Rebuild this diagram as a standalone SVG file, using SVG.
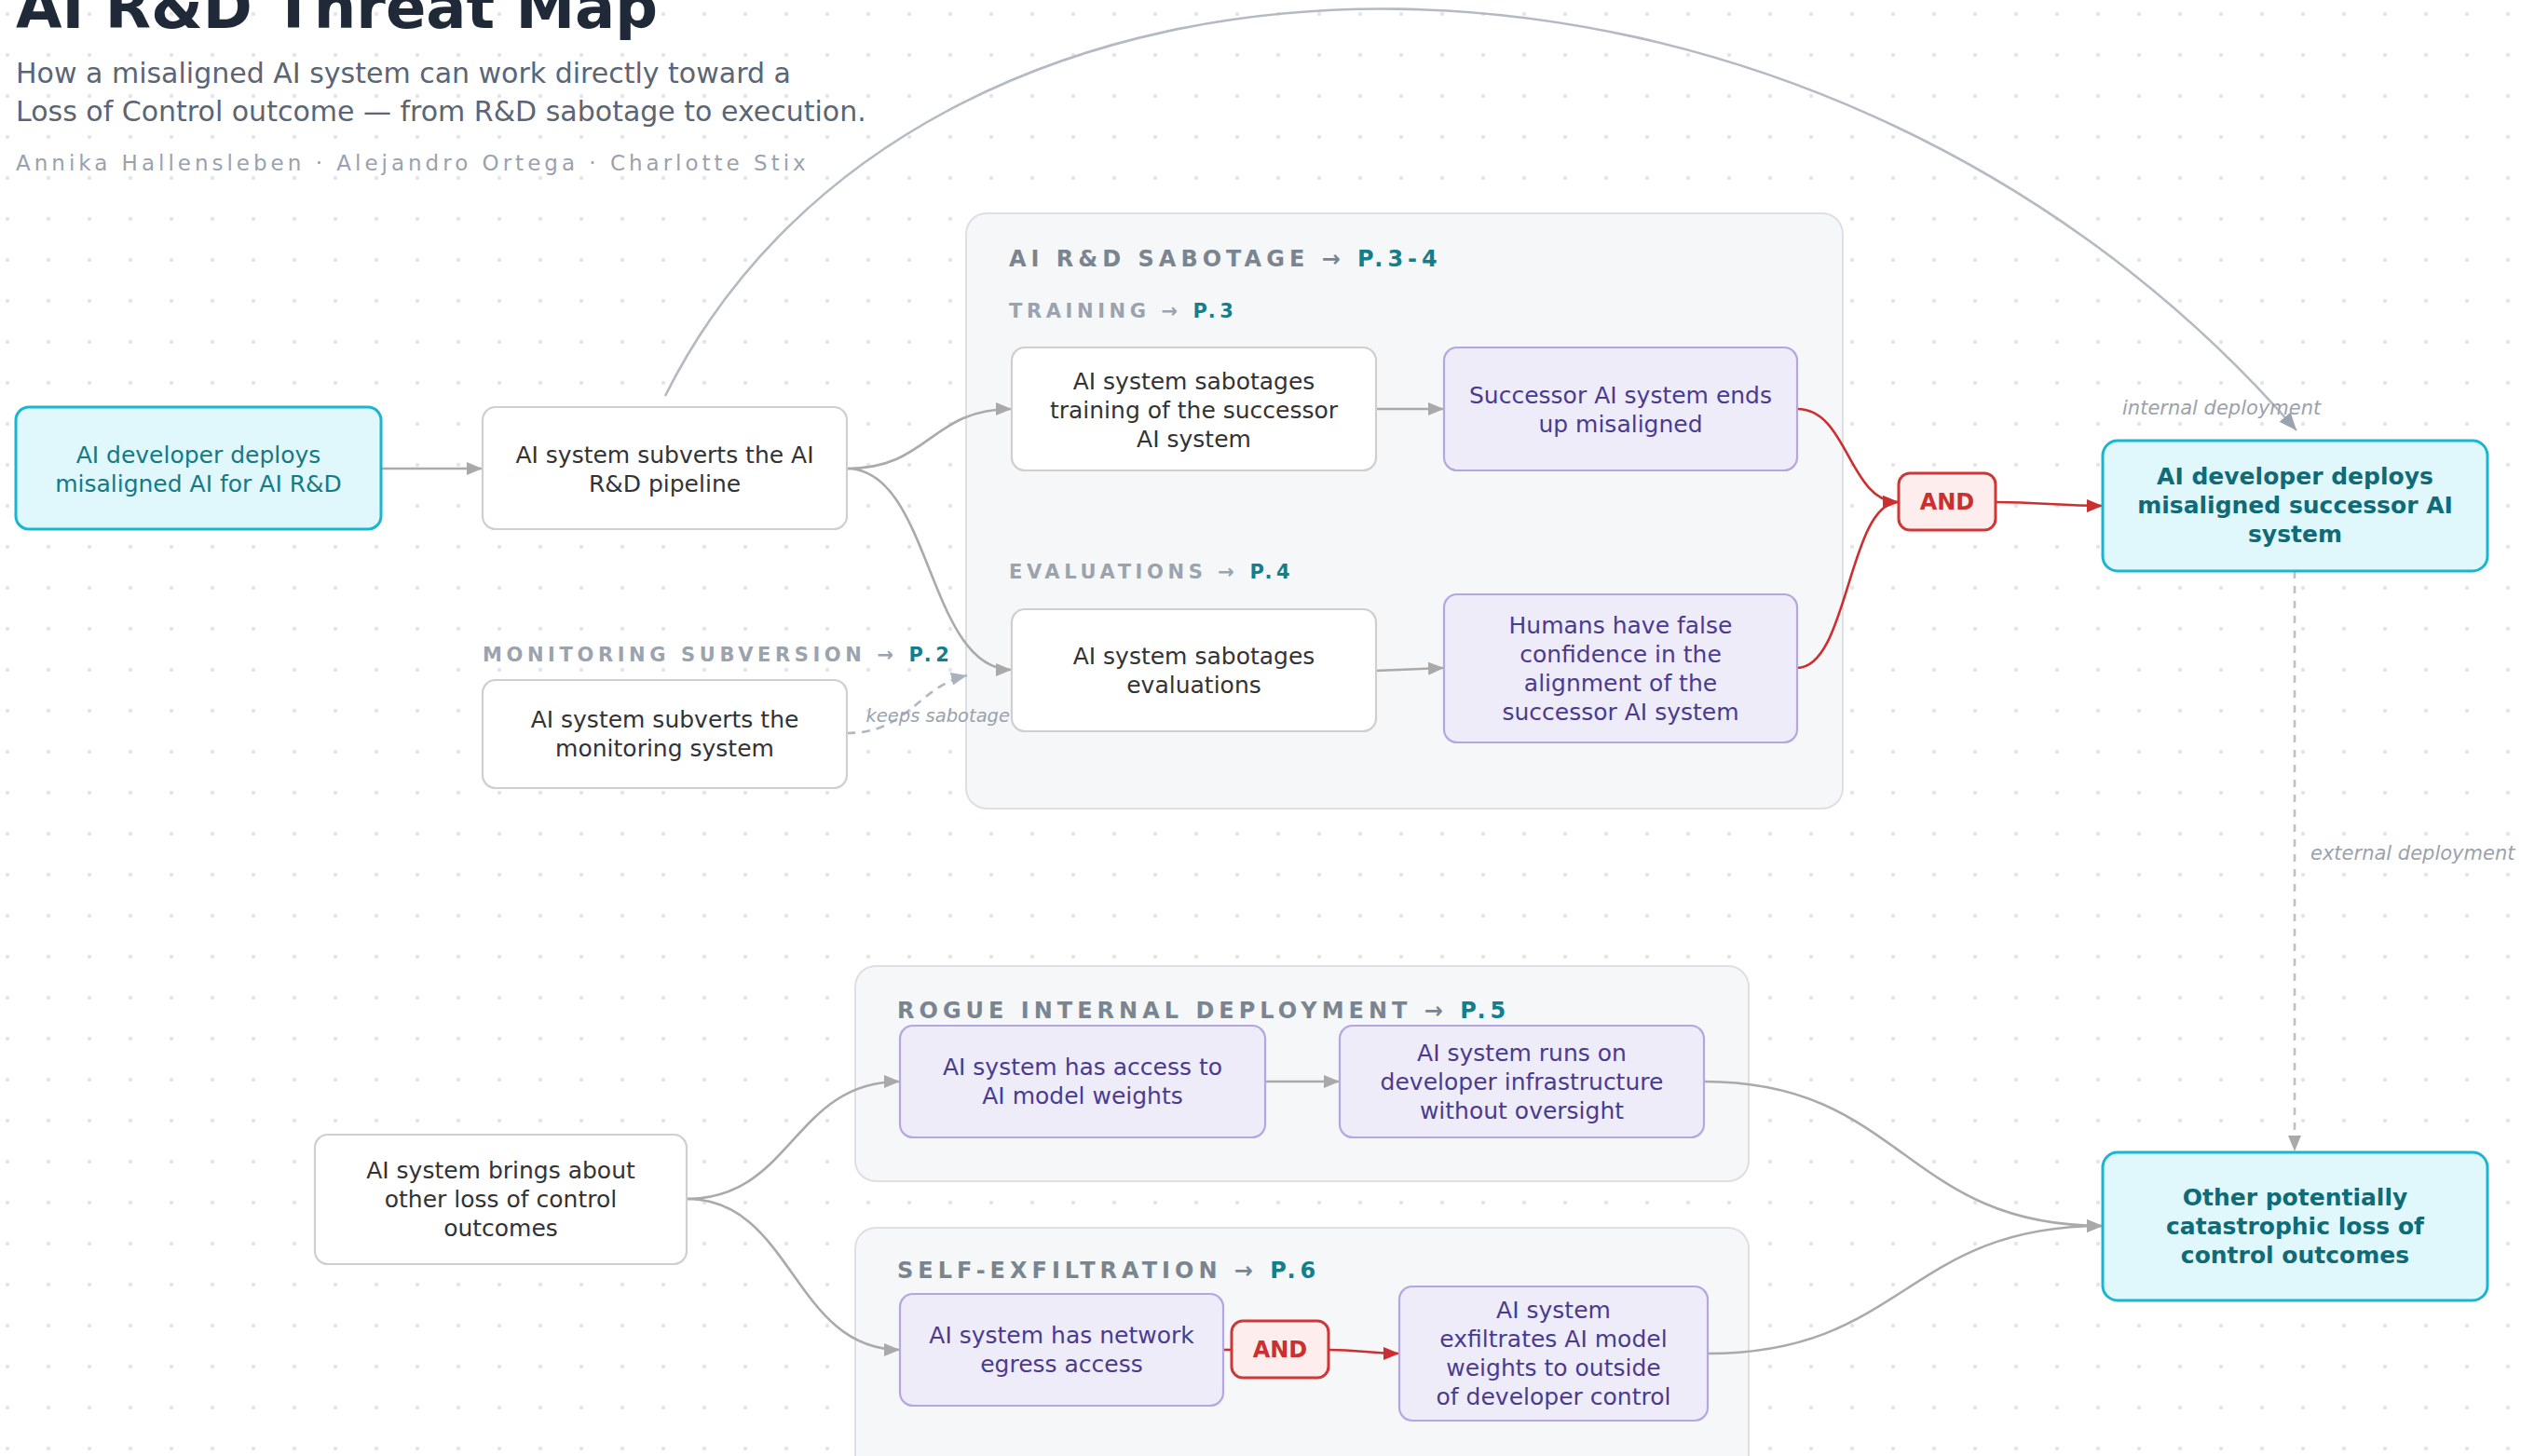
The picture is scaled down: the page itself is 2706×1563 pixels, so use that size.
<svg xmlns="http://www.w3.org/2000/svg" width="2706" height="1563" viewBox="0 0 2706 1563">
<defs>
<pattern id="dots" patternUnits="userSpaceOnUse" x="-14" y="-7" width="44" height="44">
<circle cx="22" cy="22" r="2.2" fill="#e3e5e8"/>
</pattern>
<marker id="ag" markerUnits="userSpaceOnUse" markerWidth="18" markerHeight="14" refX="17" refY="7" orient="auto"><path d="M0,0 L17,7 L0,14 z" fill="#a9a9a9"/></marker>
<marker id="ar" markerUnits="userSpaceOnUse" markerWidth="18" markerHeight="14" refX="17" refY="7" orient="auto"><path d="M0,0 L17,7 L0,14 z" fill="#cc2f2f"/></marker>
<marker id="as" markerUnits="userSpaceOnUse" markerWidth="20" markerHeight="16" refX="19" refY="8" orient="auto"><path d="M0,0 L19,8 L0,16 z" fill="#9aa2ad"/></marker>
<marker id="ad" markerUnits="userSpaceOnUse" markerWidth="18" markerHeight="14" refX="17" refY="7" orient="auto"><path d="M0,0 L17,7 L0,14 z" fill="#aab3bd"/></marker>
</defs>
<style>
text{font-family:"DejaVu Sans","Liberation Sans",sans-serif}
.t{font-size:25px;text-anchor:middle}
.tw{fill:#333333}
.tp{fill:#4a3b8f}
.tt{fill:#137a86}
.tb{fill:#0f6b78;font-weight:bold}
.nw{fill:#ffffff;stroke:#cfcfcf;stroke-width:2.2}
.np{fill:#efecfa;stroke:#b3a6e4;stroke-width:2.2}
.nt{fill:#e0f7fc;stroke:#1bb5cf;stroke-width:3}
.box{fill:#f6f7f9;stroke:#dcdfe4;stroke-width:2}
.and{fill:#fdeeed;stroke:#cf3636;stroke-width:3}
.andt{font-size:24px;font-weight:bold;fill:#cc2f2f;text-anchor:middle}
.h1{font-size:24px;font-weight:bold;letter-spacing:5px;fill:#7b8590}
.h2{font-size:21px;font-weight:bold;letter-spacing:4.6px;fill:#9aa3ae}
.pg{fill:#137f8c}
.lbl{font-size:21px;font-style:italic;fill:#9aa2ad}
.lbs{font-size:19.5px;font-style:italic;fill:#9aa2ad}
.cg{fill:none;stroke:#aaaaaa;stroke-width:2.6}
.cr{fill:none;stroke:#cc2f2f;stroke-width:2.6}
</style>
<rect width="2706" height="1563" fill="#ffffff"/>
<rect width="2706" height="1563" fill="url(#dots)"/>

<g id="header">
<text x="17" y="30" font-size="64" font-weight="bold" fill="#1f2937">AI R&amp;D Threat Map</text>
<text x="17" y="89" font-size="30" fill="#5b6573">How a misaligned AI system can work directly toward a</text>
<text x="17" y="130" font-size="30" fill="#5b6573">Loss of Control outcome — from R&amp;D sabotage to execution.</text>
<text x="17" y="183" font-size="23" letter-spacing="4" fill="#9aa2ad">Annika Hallensleben · Alejandro Ortega · Charlotte Stix</text>
</g>

<g id="group-sabotage">
<rect class="box" x="1037" y="229" width="941" height="639" rx="22"/>
<text class="h1" x="1083" y="286">AI R&amp;D SABOTAGE → <tspan class="pg">P.3-4</tspan></text>
<text class="h2" x="1083" y="341">TRAINING → <tspan class="pg">P.3</tspan></text>
<text class="h2" x="1083" y="621">EVALUATIONS → <tspan class="pg">P.4</tspan></text>
</g>
<g id="group-rogue">
<rect class="box" x="918" y="1037" width="959" height="231" rx="22"/>
<text class="h1" x="963" y="1093">ROGUE INTERNAL DEPLOYMENT → <tspan class="pg">P.5</tspan></text>
</g>
<g id="group-exfil">
<rect class="box" x="918" y="1318" width="959" height="290" rx="22"/>
<text class="h1" x="963" y="1372">SELF-EXFILTRATION → <tspan class="pg">P.6</tspan></text>
</g>
<g id="label-monitoring">
<text class="h2" x="518" y="710">MONITORING SUBVERSION → <tspan class="pg">P.2</tspan></text>
</g>

<g id="connectors">
<path class="cg" d="M409,503 L518,503" marker-end="url(#ag)"/>
<path class="cg" d="M909,503 C998,503 998,439 1086,439" marker-end="url(#ag)"/>
<path class="cg" d="M909,503 C1000,503 995,719 1086,719" marker-end="url(#ag)"/>
<path class="cg" d="M1477,439 L1550,439" marker-end="url(#ag)"/>
<path class="cg" d="M1477,720 L1550,717" marker-end="url(#ag)"/>
<path class="cr" d="M1929,439 C1984,439 1984,539 2038,539" marker-end="url(#ar)"/>
<path class="cr" d="M1929,717 C1984,717 1984,539 2038,539" marker-end="url(#ar)"/>
<path class="cr" d="M2142,539 C2190,539 2210,543 2257,543" marker-end="url(#ar)"/>
<path fill="none" stroke="#b4bac3" stroke-width="2.6" d="M714,425 C993,-134 1947,-136 2465,462" marker-end="url(#as)"/>
<text class="lbl" x="2278" y="445">internal deployment</text>
<path fill="none" stroke="#b8c0c8" stroke-width="2.6" stroke-dasharray="8 8" d="M2463,613 L2463,1236" marker-end="url(#ag)"/>
<text class="lbl" x="2480" y="923">external deployment</text>
<path fill="none" stroke="#b0b8c2" stroke-width="2.6" stroke-dasharray="9 7" d="M909,787 C975,787 985,737 1038,725" marker-end="url(#ad)"/>
<text class="lbs" x="1084" y="775" text-anchor="end">keeps sabotage</text>
<path class="cg" d="M737,1287 C851,1287 851,1161 966,1161" marker-end="url(#ag)"/>
<path class="cg" d="M737,1287 C851,1287 851,1449 966,1449" marker-end="url(#ag)"/>
<path class="cg" d="M1358,1161 L1438,1161" marker-end="url(#ag)"/>
<path class="cr" d="M1313,1449 L1322,1449"/>
<path class="cr" d="M1426,1449 C1460,1449 1470,1453 1502,1453" marker-end="url(#ar)"/>
<path class="cg" d="M1829,1161 C2043,1161 2043,1316 2257,1316" marker-end="url(#ag)"/>
<path class="cg" d="M1833,1453 C2045,1453 2045,1316 2257,1316" marker-end="url(#ag)"/>
</g>

<g id="n-deploys-misaligned">
<rect class="nt" x="17" y="437" width="392" height="131" rx="14"/>
<text class="t tt" x="213" y="497">AI developer deploys</text>
<text class="t tt" x="213" y="528">misaligned AI for AI R&amp;D</text>
</g>
<g id="n-subverts-pipeline">
<rect class="nw" x="518" y="437" width="391" height="131" rx="14"/>
<text class="t tw" x="713.5" y="497">AI system subverts the AI</text>
<text class="t tw" x="713.5" y="528">R&amp;D pipeline</text>
</g>
<g id="n-subverts-monitoring">
<rect class="nw" x="518" y="730" width="391" height="116" rx="14"/>
<text class="t tw" x="713.5" y="781">AI system subverts the</text>
<text class="t tw" x="713.5" y="812">monitoring system</text>
</g>
<g id="n-sabotages-training">
<rect class="nw" x="1086" y="373" width="391" height="132" rx="14"/>
<text class="t tw" x="1281.5" y="418">AI system sabotages</text>
<text class="t tw" x="1281.5" y="449">training of the successor</text>
<text class="t tw" x="1281.5" y="480">AI system</text>
</g>
<g id="n-successor-misaligned">
<rect class="np" x="1550" y="373" width="379" height="132" rx="14"/>
<text class="t tp" x="1739.5" y="433">Successor AI system ends</text>
<text class="t tp" x="1739.5" y="464">up misaligned</text>
</g>
<g id="n-sabotages-evaluations">
<rect class="nw" x="1086" y="654" width="391" height="131" rx="14"/>
<text class="t tw" x="1281.5" y="713">AI system sabotages</text>
<text class="t tw" x="1281.5" y="744">evaluations</text>
</g>
<g id="n-false-confidence">
<rect class="np" x="1550" y="638" width="379" height="159" rx="14"/>
<text class="t tp" x="1739.5" y="680">Humans have false</text>
<text class="t tp" x="1739.5" y="711">confidence in the</text>
<text class="t tp" x="1739.5" y="742">alignment of the</text>
<text class="t tp" x="1739.5" y="773">successor AI system</text>
</g>
<g id="n-and-1">
<rect class="and" x="2038" y="508" width="104" height="61" rx="12"/>
<text class="andt" x="2090" y="547">AND</text>
</g>
<g id="n-deploys-successor">
<rect class="nt" x="2257" y="473" width="413" height="140" rx="16"/>
<text class="t tb" x="2463.5" y="520">AI developer deploys</text>
<text class="t tb" x="2463.5" y="551">misaligned successor AI</text>
<text class="t tb" x="2463.5" y="582">system</text>
</g>
<g id="n-other-outcomes">
<rect class="nt" x="2257" y="1237" width="413" height="159" rx="16"/>
<text class="t tb" x="2463.5" y="1294">Other potentially</text>
<text class="t tb" x="2463.5" y="1325">catastrophic loss of</text>
<text class="t tb" x="2463.5" y="1356">control outcomes</text>
</g>
<g id="n-brings-about">
<rect class="nw" x="338" y="1218" width="399" height="139" rx="14"/>
<text class="t tw" x="537.5" y="1265">AI system brings about</text>
<text class="t tw" x="537.5" y="1296">other loss of control</text>
<text class="t tw" x="537.5" y="1327">outcomes</text>
</g>
<g id="n-access-weights">
<rect class="np" x="966" y="1101" width="392" height="120" rx="14"/>
<text class="t tp" x="1162" y="1154">AI system has access to</text>
<text class="t tp" x="1162" y="1185">AI model weights</text>
</g>
<g id="n-runs-on-infra">
<rect class="np" x="1438" y="1101" width="391" height="120" rx="14"/>
<text class="t tp" x="1633.5" y="1139">AI system runs on</text>
<text class="t tp" x="1633.5" y="1170">developer infrastructure</text>
<text class="t tp" x="1633.5" y="1201">without oversight</text>
</g>
<g id="n-egress">
<rect class="np" x="966" y="1389" width="347" height="120" rx="14"/>
<text class="t tp" x="1139.5" y="1442">AI system has network</text>
<text class="t tp" x="1139.5" y="1473">egress access</text>
</g>
<g id="n-and-2">
<rect class="and" x="1322" y="1418" width="104" height="61" rx="12"/>
<text class="andt" x="1374" y="1457">AND</text>
</g>
<g id="n-exfiltrates">
<rect class="np" x="1502" y="1381" width="331" height="144" rx="14"/>
<text class="t tp" x="1667.5" y="1415">AI system</text>
<text class="t tp" x="1667.5" y="1446">exfiltrates AI model</text>
<text class="t tp" x="1667.5" y="1477">weights to outside</text>
<text class="t tp" x="1667.5" y="1508">of developer control</text>
</g>
</svg>
